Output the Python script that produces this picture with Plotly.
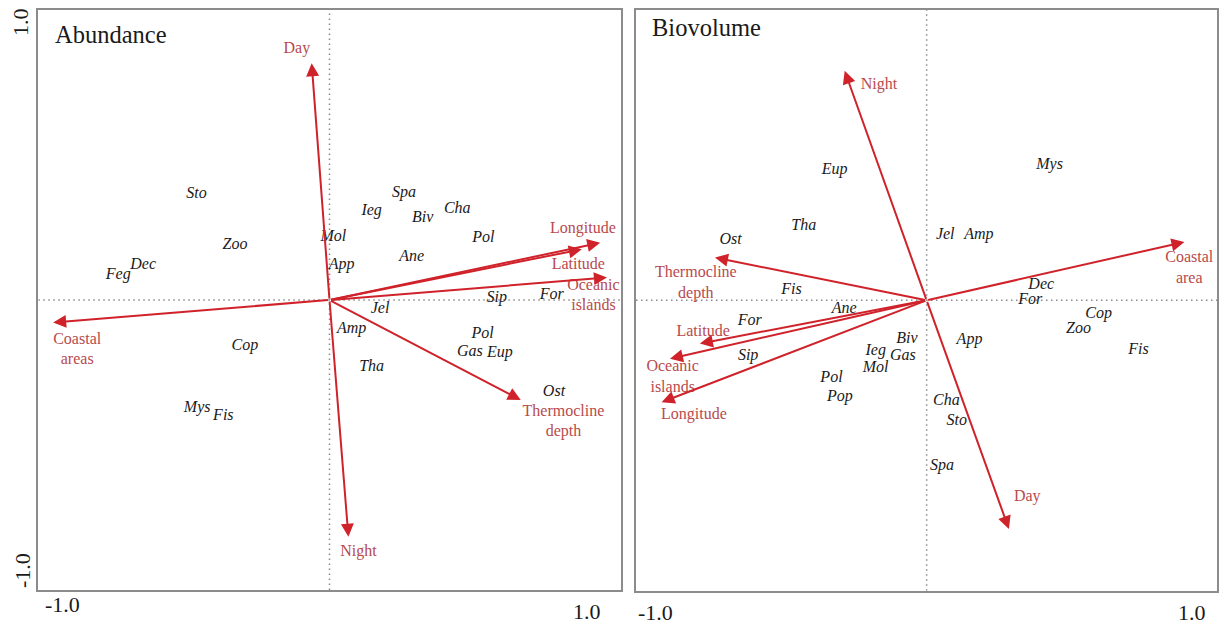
import plotly.graph_objects as go

# ---------------- Data: Abundance (left panel) ----------------
ab_species = ["Sto", "Zoo", "Dec", "Feg", "Mol", "App", "Ieg", "Spa", "Biv", "Cha",
              "Pol", "Ane", "Sip", "For", "Jel", "Amp", "Tha", "Pol", "Gas", "Eup",
              "Ost", "Cop", "Mys", "Fis"]
ab_sp_x = [-0.492, -0.350, -0.690, -0.782, 0.014, 0.045, 0.156, 0.276, 0.345, 0.473,
           0.570, 0.304, 0.619, 0.823, 0.187, 0.082, 0.156, 0.567, 0.520, 0.631,
           0.831, -0.313, -0.490, -0.393]
ab_sp_y = [0.393, 0.204, 0.130, 0.093, 0.234, 0.130, 0.331, 0.397, 0.303, 0.336,
           0.229, 0.158, 0.006, 0.019, -0.034, -0.109, -0.249, -0.126, -0.191, -0.195,
           -0.340, -0.170, -0.401, -0.430]

ab_env = ["Day", "Night", "Coastal<br>areas", "Longitude", "Latitude",
          "Oceanic<br>islands", "Thermocline<br>depth"]
ab_env_x = [-0.066, 0.070, -1.023, 1.002, 0.934, 1.027, 0.708]
ab_env_y = [0.877, -0.877, -0.083, 0.212, 0.188, 0.083, -0.370]
ab_lab_x = [-0.121, 0.107, -0.934, 0.938, 0.921, 0.977, 0.866]
ab_lab_y = [0.929, -0.932, -0.185, 0.262, 0.130, 0.015, -0.452]

# ---------------- Data: Biovolume (right panel) ----------------
bv_species = ["Eup", "Tha", "Ost", "Fis", "Ane", "For", "Sip", "Biv", "Ieg", "Gas",
              "Mol", "Pol", "Pop", "Mys", "Jel", "Amp", "Dec", "For", "Cop", "Zoo",
              "Fis", "App", "Cha", "Sto", "Spa"]
bv_sp_x = [-0.341, -0.456, -0.727, -0.501, -0.306, -0.656, -0.662, -0.073, -0.189, -0.088,
           -0.189, -0.353, -0.322, 0.456, 0.069, 0.194, 0.425, 0.384, 0.638, 0.563,
           0.786, 0.159, 0.073, 0.112, 0.057]
bv_sp_y = [0.481, 0.274, 0.222, 0.040, -0.031, -0.077, -0.207, -0.144, -0.188, -0.206,
           -0.249, -0.286, -0.358, 0.500, 0.243, 0.243, 0.056, 0.003, -0.052, -0.107,
           -0.183, -0.146, -0.373, -0.447, -0.614]

bv_env = ["Night", "Day", "Coastal<br>area", "Thermocline<br>depth", "Latitude",
          "Oceanic<br>islands", "Longitude"]
bv_env_x = [-0.304, 0.305, 0.956, -0.785, -0.841, -0.952, -0.983]
bv_env_y = [0.849, -0.846, 0.216, 0.158, -0.160, -0.216, -0.377]
bv_lab_x = [-0.177, 0.373, 0.974, -0.856, -0.829, -0.942, -0.863]
bv_lab_y = [0.796, -0.726, 0.119, 0.063, -0.117, -0.287, -0.426]

panel_titles = ["Abundance", "Biovolume"]
tick_text = ["-1.0", "1.0"]

# ---------------- Styling ----------------
SERIF = "Liberation Serif, Times New Roman, serif"
ARROW_COL = "#d0222a"
LABEL_COL = "#b84a4c"
SP_COL = "#1a1a1a"
FRAME_COL = "#8c8c8c"
XR = 1.078
YR = 1.074

fig = go.Figure()

panels = [
    ("x", "y", ab_species, ab_sp_x, ab_sp_y, ab_env, ab_env_x, ab_env_y, ab_lab_x, ab_lab_y),
    ("x2", "y2", bv_species, bv_sp_x, bv_sp_y, bv_env, bv_env_x, bv_env_y, bv_lab_x, bv_lab_y),
]

for xa, ya, sp, spx, spy, env, ex, ey, lx, ly in panels:
    fig.add_trace(go.Scatter(
        x=spx, y=spy, text=sp, mode="text", xaxis=xa, yaxis=ya,
        textfont=dict(family=SERIF, size=16, color=SP_COL, style="italic"),
        textposition="middle center", hoverinfo="skip", showlegend=False))
    fig.add_trace(go.Scatter(
        x=lx, y=ly, text=env, mode="text", xaxis=xa, yaxis=ya,
        textfont=dict(family=SERIF, size=16, color=LABEL_COL),
        textposition="middle center", hoverinfo="skip", showlegend=False))
    # dotted cross lines through origin
    fig.add_shape(type="line", xref=xa, yref=ya, x0=-XR, x1=XR, y0=0, y1=0,
                  line=dict(color="#8a8a8a", width=1.5, dash="1.5px,3.5px"), layer="below")
    fig.add_shape(type="line", xref=xa, yref=ya, x0=0, x1=0, y0=-YR, y1=YR,
                  line=dict(color="#8a8a8a", width=1.5, dash="1.5px,3.5px"), layer="below")
    for tx, ty in zip(ex, ey):
        fig.add_annotation(x=tx, y=ty, ax=0, ay=0, xref=xa, yref=ya, axref=xa, ayref=ya,
                           text="", showarrow=True, arrowhead=2, arrowsize=1.3,
                           arrowwidth=2, arrowcolor=ARROW_COL)

axis_common = dict(showgrid=False, zeroline=False, showticklabels=False, ticks="",
                   showline=True, mirror=True, linecolor=FRAME_COL, linewidth=1.5)

fig.update_layout(
    width=1226, height=625,
    margin=dict(l=0, r=0, t=0, b=0),
    paper_bgcolor="white", plot_bgcolor="white",
    xaxis=dict(domain=[0.03124, 0.50628], range=[-XR, XR], anchor="y", **axis_common),
    yaxis=dict(domain=[0.056, 0.984], range=[-YR, YR], anchor="x", **axis_common),
    xaxis2=dict(domain=[0.51876, 0.99290], range=[-XR, XR], anchor="y2", **axis_common),
    yaxis2=dict(domain=[0.055, 0.984], range=[-YR, YR], anchor="x2", **axis_common),
)

# panel titles
fig.add_annotation(x=53 / 1226, y=1 - 34 / 625, xref="paper", yref="paper",
                   text=panel_titles[0], showarrow=False, xanchor="left", yanchor="middle",
                   font=dict(family=SERIF, size=24.5, color="#1a1a1a"))
fig.add_annotation(x=650 / 1226, y=1 - 28 / 625, xref="paper", yref="paper",
                   text=panel_titles[1], showarrow=False, xanchor="left", yanchor="middle",
                   font=dict(family=SERIF, size=24.5, color="#1a1a1a"))

# axis end labels
tick_font = dict(family=SERIF, size=22, color="#1a1a1a")
for px, py, t in [(62, 604, tick_text[0]), (587, 611, tick_text[1]),
                  (655, 612, tick_text[0]), (1192, 612, tick_text[1])]:
    fig.add_annotation(x=px / 1226, y=1 - py / 625, xref="paper", yref="paper", text=t,
                       showarrow=False, xanchor="center", yanchor="middle", font=tick_font)
for px, py, t in [(20, 22, tick_text[1]), (22, 570, tick_text[0])]:
    fig.add_annotation(x=px / 1226, y=1 - py / 625, xref="paper", yref="paper", text=t,
                       showarrow=False, xanchor="center", yanchor="middle", textangle=-90,
                       font=tick_font)

fig.write_html("out.html")
